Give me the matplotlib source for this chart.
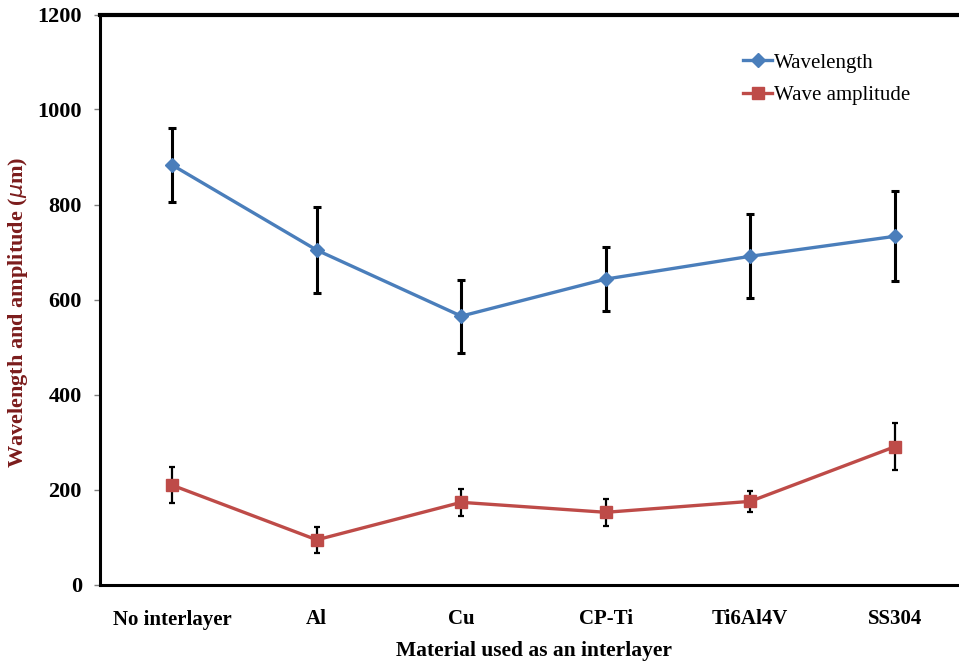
import matplotlib
matplotlib.use("Agg")
import matplotlib.pyplot as plt
from matplotlib.lines import Line2D
import numpy as np

categories = ["No interlayer", "Al", "Cu", "CP-Ti", "Ti6Al4V", "SS304"]
wavelength = [883, 704, 565, 643, 691, 733]
wavelength_err = [77, 90, 77, 67, 88, 95]
amplitude = [209, 94, 173, 152, 175, 290]
amplitude_err = [38, 27, 29, 28, 22, 49]
yticks = [0, 200, 400, 600, 800, 1000, 1200]

plt.rcParams['font.family'] = ['Liberation Serif', 'DejaVu Serif']

fig = plt.figure(figsize=(9.59, 6.63), dpi=100)
ax = fig.add_axes([100/959, 1 - 584.5/663, 867/959, (584.5-14.5)/663])

x = np.arange(len(categories))
blue = "#4a7ebb"
red = "#be4b48"

ax.errorbar(x, wavelength, yerr=wavelength_err, color=blue, lw=2.4, marker="D",
            markersize=7, markerfacecolor=blue, markeredgecolor=blue,
            ecolor="black", elinewidth=2.2, capsize=3, capthick=2.2, zorder=3)
ax.errorbar(x, amplitude, yerr=amplitude_err, color=red, lw=2.4, marker="s",
            markersize=8, markerfacecolor=red, markeredgecolor=red,
            ecolor="black", elinewidth=1.6, capsize=2.5, capthick=1.6, zorder=3)

ax.set_xlim(-0.5, 5.5)
ax.set_ylim(0, 1200)
ax.set_yticks(yticks)
ax.set_yticklabels([str(t) for t in yticks], fontsize=16, fontweight="bold")
ax.set_xticks(x)
ax.set_xticklabels(categories, fontsize=15, fontweight="bold")
ax.tick_params(axis="x", length=0, pad=18)
ax.tick_params(axis="y", length=4, width=1, color="#808080", pad=9)

for s in ["left", "bottom"]:
    ax.spines[s].set_linewidth(2.2)
    ax.spines[s].set_color("black")
ax.spines["top"].set_linewidth(3)
ax.spines["right"].set_visible(False)

ax.set_ylabel(r"Wavelength and amplitude ($\mathit{\mu}$m)", fontsize=16,
              fontweight="bold", color="#7b1c1c", va="center")
ax.yaxis.set_label_coords((18 - 100) / 867, (584.5 - 312) / 570)
ax.set_xlabel("Material used as an interlayer", fontsize=15.5, fontweight="bold",
              labelpad=8.5)

handles = [
    Line2D([], [], color=blue, lw=2.4, marker="D", markersize=7,
           markerfacecolor=blue, markeredgecolor=blue),
    Line2D([], [], color=red, lw=2.4, marker="s", markersize=8,
           markerfacecolor=red, markeredgecolor=red),
]
ax.legend(handles, ["Wavelength", "Wave amplitude"], loc="upper left",
          bbox_to_anchor=(0.72, 0.965), frameon=False, fontsize=15,
          handlelength=1.4, handletextpad=0.1, labelspacing=0.6, numpoints=1)

fig.savefig("out.png", dpi=100)
